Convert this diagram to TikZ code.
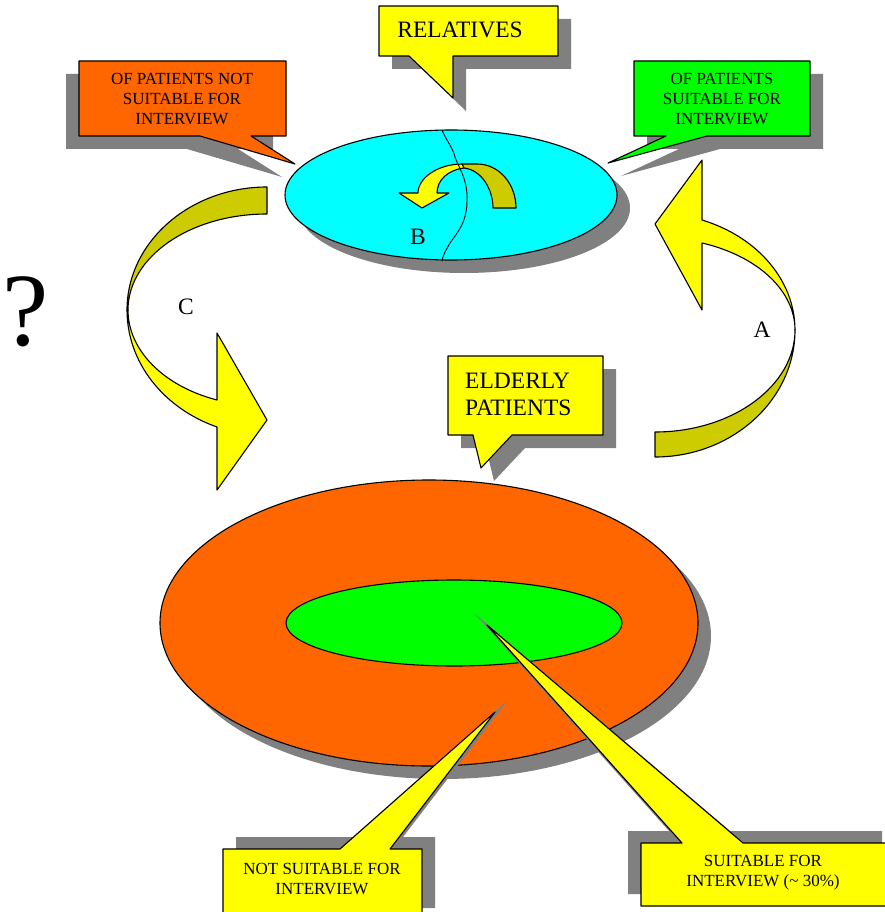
\documentclass[tikz,border=0pt]{standalone}
\usepackage{fontspec}
\setmainfont{Liberation Serif}
\definecolor{fillorange}{RGB}{255,102,0}
\definecolor{fillolive}{RGB}{204,204,0}
\definecolor{fillcyan}{RGB}{0,255,255}
\definecolor{fillgreen}{RGB}{0,255,0}
\definecolor{fillyellow}{RGB}{255,255,0}
\definecolor{dropgray}{RGB}{128,128,128}
\tikzset{
  outline/.style={draw=black,line width=1.1pt},
  grayshadow/.style={fill=dropgray,draw=none},
  calltext/.style={font=\fontsize{17}{20}\selectfont,align=center,inner sep=0pt},
  bigtext/.style={font=\fontsize{23.5}{27}\selectfont,inner sep=0pt},
}
\begin{document}
\begin{tikzpicture}[line cap=round,line join=round,x=1pt,y=-1pt]
\useasboundingbox (0,0) rectangle (885,912);
\fill[white] (0,0) rectangle (885,912);
% disc of relatives
\fill[grayshadow] (464,208) ellipse [x radius=166,y radius=65];
\draw[outline,fill=fillcyan] (451,195) ellipse [x radius=166,y radius=65];
\draw[outline,fill=fillolive] (462,164) -- (477,164) .. controls (500,164) and (516,185) .. (516,208) -- (493,208) .. controls (493,190) and (482,170) .. (464,168) -- cycle;
\draw[outline,fill=fillyellow] (462,164) .. controls (438,164) and (418,178) .. (418,193) -- (399,193) -- (422,208) -- (449,193) -- (437,193) .. controls (437,180) and (448,170) .. (464,168) -- cycle;
\draw[line width=0.9pt] (442,130) .. controls (446,140) and (453,148) .. (455,157) .. controls (458,166) and (468,180) .. (467,200) .. controls (467,222) and (458,232) .. (450,243) .. controls (446,250) and (443,255) .. (442,261);
\node[bigtext] (lblB) at (418,237) {B};
% callout RELATIVES
\fill[grayshadow,shift={(13,13)}] (379,6) -- (558,6) -- (558,56) -- (453,56) -- (453,98) -- (409,56) -- (379,56) -- cycle;
\draw[outline,fill=fillyellow] (379,6) -- (558,6) -- (558,56) -- (453,56) -- (453,98) -- (409,56) -- (379,56) -- cycle;
\node[bigtext] (relatives) at (460,30) {RELATIVES};
% callout not suitable (relatives)
\fill[grayshadow,shift={(-13,13)}] (79,61) -- (286,61) -- (286,136) -- (251,136) -- (295,164) -- (200,136) -- (79,136) -- cycle;
\draw[outline,fill=fillorange] (79,61) -- (286,61) -- (286,136) -- (251,136) -- (295,164) -- (200,136) -- (79,136) -- cycle;
\node[calltext] (relnotsuit) at (182,99) {OF PATIENTS NOT\\SUITABLE FOR\\INTERVIEW};
% callout suitable (relatives)
\fill[grayshadow,shift={(13,13)}] (634,61) -- (810,61) -- (810,136) -- (707,136) -- (608,163) -- (666,136) -- (634,136) -- cycle;
\draw[outline,fill=fillgreen] (634,61) -- (810,61) -- (810,136) -- (707,136) -- (608,163) -- (666,136) -- (634,136) -- cycle;
\node[calltext] (relsuit) at (722,99) {OF PATIENTS\\SUITABLE FOR\\INTERVIEW};
% arrow C
\draw[outline,fill=fillolive] (267,187) .. controls (190,187) and (127,242) .. (127,310) -- (128,310) .. controls (128,257) and (190,214) .. (267,214) -- cycle;
\draw[outline,fill=fillyellow] (127,310) .. controls (127,362) and (163,408) .. (217,427) -- (217,490) -- (267,420) -- (217,333) -- (217,400) .. controls (163,386) and (128,350) .. (128,310) -- cycle;
\node[bigtext] (lblC) at (186,307) {C};
% arrow A
\draw[outline,fill=fillolive] (655,457) .. controls (732,457) and (795,400) .. (795,330) .. controls (795,386) and (732,432) .. (655,432) -- cycle;
\draw[outline,fill=fillyellow] (795,330) .. controls (795,281) and (758,237) .. (702,220) -- (702,160) -- (655,224) -- (702,310) -- (702,243) .. controls (758,256) and (795,291) .. (795,330) -- cycle;
\node[bigtext] (lblA) at (762,330) {A};
\node[font=\fontsize{104}{110}\selectfont,inner sep=0pt] (query) at (26,312) {?};
% callout ELDERLY PATIENTS
\fill[grayshadow,shift={(13,13)}] (448,356) -- (603,356) -- (603,435) -- (512,435) -- (481,468) -- (473,435) -- (448,435) -- cycle;
\draw[outline,fill=fillyellow] (448,356) -- (603,356) -- (603,435) -- (512,435) -- (481,468) -- (473,435) -- (448,435) -- cycle;
\node[bigtext,align=left,anchor=west] (elderly) at (465,394) {ELDERLY\\PATIENTS};
% patients
\fill[grayshadow] (442,636) ellipse [x radius=269,y radius=143];
\draw[outline,fill=fillorange] (429,623) ellipse [x radius=269,y radius=143];
\draw[outline,fill=fillgreen] (454,623) ellipse [x radius=168,y radius=43];
% callout not suitable
\fill[grayshadow,shift={(13,-12)}] (223,849) -- (340,849) -- (495,712) -- (390,849) -- (422,849) -- (422,920) -- (223,920) -- cycle;
\draw[outline,fill=fillyellow] (223,849) -- (340,849) -- (495,712) -- (390,849) -- (422,849) -- (422,920) -- (223,920) -- cycle;
\node[calltext] (notsuit) at (322,879) {NOT SUITABLE FOR\\INTERVIEW};
% callout suitable
\fill[grayshadow,shift={(-13,-12)}] (641,843) -- (682,843) -- (487,625) -- (743,843) -- (895,843) -- (895,906) -- (641,906) -- cycle;
\draw[outline,fill=fillyellow] (641,843) -- (682,843) -- (487,625) -- (743,843) -- (895,843) -- (895,906) -- (641,906) -- cycle;
\node[calltext] (suit) at (763,873) {SUITABLE FOR\\INTERVIEW (\textasciitilde{} 30\%)};
\end{tikzpicture}
\end{document}
